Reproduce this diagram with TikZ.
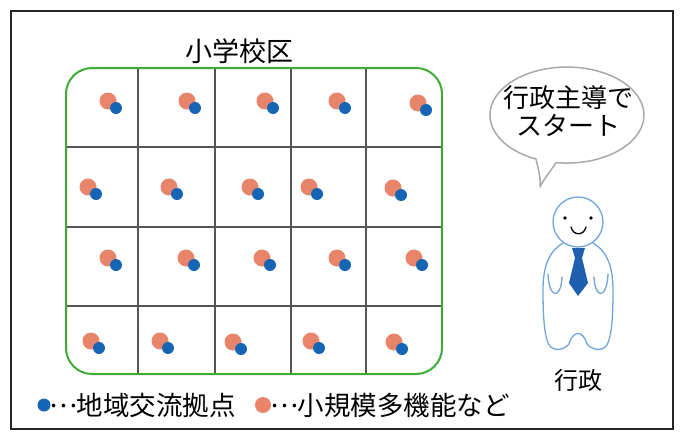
\documentclass[tikz,border=0pt]{standalone}
\usepackage{fontspec}
\newfontfamily\jp{Noto Sans CJK JP}
\usetikzlibrary{positioning}

\definecolor{hubblue}{HTML}{1565B4}
\definecolor{careorange}{HTML}{E8846A}
\definecolor{zonegreen}{HTML}{3DAA33}
\definecolor{gridgray}{HTML}{555555}
\definecolor{staffblue}{HTML}{6FA4DC}
\definecolor{tieblue}{HTML}{1E5FAE}
\definecolor{bubblegray}{HTML}{A9A9A9}

% centred ellipsis, full width
\newcommand\midell{\makebox[1em][c]{\raisebox{0.3em}{…}}}

\begin{document}
\begin{tikzpicture}[
  x=1pt,y=-1pt,
  txt/.style={font=\jp\fontsize{#1}{#1}\selectfont, inner sep=0pt},
  txt/.default=24,
  gridline/.style={draw=gridgray, line width=1.4pt},
  zone/.style={draw=zonegreen, line width=2pt, rounded corners=26pt},
  care/.style={fill=careorange},
  hub/.style={fill=hubblue},
  staff/.style={draw=staffblue, line width=1.3pt, line cap=round, line join=round},
  bubble/.style={draw=bubblegray, fill=white, line width=1.5pt, line join=round}
]
\useasboundingbox (0,0) rectangle (680,434);
\draw[line width=1.6pt, black!85] (11,11) rectangle (673,429);

% school district grid
\foreach \gx in {138,215,291,366}{\draw[gridline] (\gx,68) -- (\gx,374);}
\foreach \gy in {147,227,306}{\draw[gridline] (66,\gy) -- (442,\gy);}
\draw[zone] (66,68) rectangle (442,374);
\node[txt=27] (area) at (239,51) {小学校区};

\foreach \px/\py in {108/101,187/101,265/101,337/101,418/103,
                     88/187,169/187,250/187,309/187,393/188,
                     108/258,186/258,262/258,337/258,414/258,
                     91/341,160/341,233/342,311/341,394/342}{
  \fill[care] (\px,\py) circle (8.5);
  \fill[hub] (\px+8,\py+7) circle (6);
}

% legend
\fill[hub] (44,405) circle (6.5);
\node[txt=26.5, anchor=west] (key1) at (50,405) {\midell 地域交流拠点};
\fill[care] (263,405) circle (8);
\node[txt=26.5, anchor=west] (key2) at (271,405) {\midell 小規模多機能など};

% speech bubble
\draw[bubble] (536,159) arc[start angle=113.7, end angle=458.2, x radius=77, y radius=48]
  .. controls (550,172) and (543,180) .. (540,187)
  .. controls (541,178) and (538,168) .. cycle;
\node[txt, align=center, font=\jp\fontsize{26}{28}\selectfont] (say) at (568,111) {行政主導で\\スタート};

% staff figure
\draw[staff] (578,222) circle (25);
\fill (565,218) circle (1.8);
\fill (591,218) circle (1.8);
\draw[line width=1.3pt, line cap=round] (571,227) .. controls (573,236) and (584,236) .. (586,227);
\draw[staff] (563,243) .. controls (548,252) and (543,268) .. (543,290)
  .. controls (543,315) and (544,335) .. (549,345)
  .. controls (554,352) and (564,350) .. (569,344)
  .. controls (573,330) and (583,330) .. (587,344)
  .. controls (592,350) and (602,352) .. (607,345)
  .. controls (612,335) and (613,315) .. (613,290)
  .. controls (613,268) and (608,252) .. (593,243);
\draw[staff] (548,274) .. controls (549,299) and (561,300) .. (562,277);
\draw[staff] (608,274) .. controls (607,299) and (595,300) .. (594,277);
\fill[tieblue] (572,248) -- (585,248) -- (582,258) -- (575,258) -- cycle;
\fill[tieblue] (575,258) -- (582,258) -- (588,283) -- (578,296) -- (569,283) -- cycle;
\node[txt=24] (admin) at (578,380) {行政};
\end{tikzpicture}
\end{document}
